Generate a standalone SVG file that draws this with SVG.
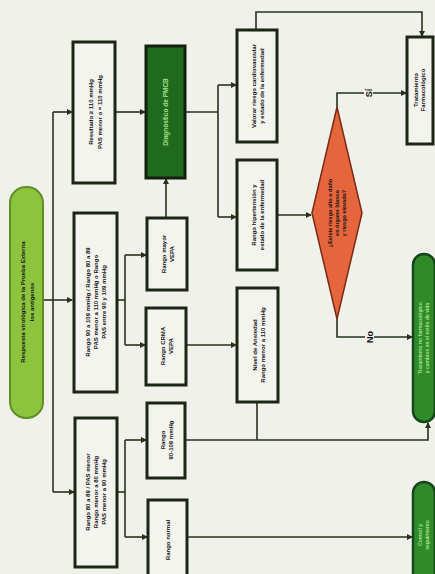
<svg xmlns="http://www.w3.org/2000/svg" width="435" height="574" viewBox="0 0 435 574">
<defs>
<marker id="ah" markerWidth="6" markerHeight="6" refX="5" refY="3" orient="auto" markerUnits="userSpaceOnUse">
<path d="M0,0 L6,3 L0,6 Z" fill="#26331c"/>
</marker>
<style>
.bg{fill:#f1f1ec}
.box{fill:#f4f4ef;stroke:#1c2614;stroke-width:3}
.dk{fill:#1f6a1c;stroke:#10200c;stroke-width:3}
.pill{fill:#8cc43e;stroke:#5f8f24;stroke-width:2}
.gp{fill:#2f8a2a;stroke:#17451a;stroke-width:2.5}
.dia{fill:#e5663c;stroke:#7a2a14;stroke-width:1.5}
.ln{fill:none;stroke:#26331c;stroke-width:1.6}
.t{font-family:"Liberation Sans",Arial,sans-serif;font-size:6px;font-weight:bold;fill:#121212;text-anchor:middle}
.tl{font-family:"Liberation Sans",Arial,sans-serif;font-size:6px;font-weight:bold;fill:#a8e08c;text-anchor:middle}
.lab{font-family:"Liberation Sans",Arial,sans-serif;font-size:9px;font-weight:bold;fill:#111;text-anchor:middle}
</style>
</defs>
<rect class="bg" x="0" y="0" width="435" height="574"/>

<g id="connectors">
<path class="ln" d="M43,300 H72" marker-end="url(#ah)"/>
<path class="ln" d="M53,112 V492"/>
<path class="ln" d="M53,112 H72" marker-end="url(#ah)"/>
<path class="ln" d="M53,492 H74" marker-end="url(#ah)"/>
<path class="ln" d="M115,112 H145" marker-end="url(#ah)"/>
<path class="ln" d="M185,112 H218"/>
<path class="ln" d="M218,85 V217"/>
<path class="ln" d="M218,85 H236" marker-end="url(#ah)"/>
<path class="ln" d="M218,217 H236" marker-end="url(#ah)"/>
<path class="ln" d="M166,218 V179" marker-end="url(#ah)"/>
<path class="ln" d="M117,300 H125"/>
<path class="ln" d="M125,255 V345"/>
<path class="ln" d="M125,255 H146" marker-end="url(#ah)"/>
<path class="ln" d="M125,345 H145" marker-end="url(#ah)"/>
<path class="ln" d="M186,345 H236" marker-end="url(#ah)"/>
<path class="ln" d="M117,492 H125"/>
<path class="ln" d="M125,440 V537"/>
<path class="ln" d="M125,440 H146" marker-end="url(#ah)"/>
<path class="ln" d="M125,537 H147" marker-end="url(#ah)"/>
<path class="ln" d="M185,440 H428 V423" marker-end="url(#ah)"/>
<path class="ln" d="M257,402 V440"/>
<path class="ln" d="M187,537 H412" marker-end="url(#ah)"/>
<path class="ln" d="M256,30 V12 H422 V36" marker-end="url(#ah)"/>
<path class="ln" d="M277,215 H311" marker-end="url(#ah)"/>
<path class="ln" d="M337,107 V93 H406" marker-end="url(#ah)"/>
<path class="ln" d="M337,319 V337 H412" marker-end="url(#ah)"/>
<rect x="364" y="86" width="9" height="14" fill="#f1f1ec"/>
<text class="lab" transform="translate(371.5,93) rotate(-90)">Sí</text>
<rect x="365" y="329" width="9" height="16" fill="#f1f1ec"/>
<text class="lab" transform="translate(372.5,337) rotate(-90)">No</text>
</g>

<g id="n-inicio">
<rect class="pill" x="10" y="187" width="33" height="231" rx="16"/>
<text class="t" transform="translate(26.5,302) rotate(-90)" fill="#1a2a0a"><tspan x="0" dy="-2">Respuesta virológica de la Prueba Externa</tspan><tspan x="0" dy="9">los antígenos</tspan></text>
</g>

<g id="n-a">
<rect class="box" x="73" y="42" width="42" height="141"/>
<text class="t" transform="translate(94,112) rotate(-90)"><tspan x="0" dy="-1">Resultado ≥ 110 mmHg</tspan><tspan x="0" dy="9">PAS menor o = 110 mmHg</tspan></text>
</g>

<g id="n-b">
<rect class="box" x="74" y="213" width="43" height="179"/>
<text class="t" transform="translate(95.5,302) rotate(-90)"><tspan x="0" dy="-6">Rango 90 a 109 mmHg / Rango 80 a 89</tspan><tspan x="0" dy="8">PAS menor a 110 mmHg o Rango</tspan><tspan x="0" dy="8">PAS entre 90 y 109 mmHg</tspan></text>
</g>

<g id="n-k">
<rect class="box" x="75" y="418" width="42" height="149"/>
<text class="t" transform="translate(96,492) rotate(-90)"><tspan x="0" dy="-6">Rango 80 a 89 / PAS menor</tspan><tspan x="0" dy="8">Rango menor a 80 mmHg</tspan><tspan x="0" dy="8">PAS menor a 90 mmHg</tspan></text>
</g>

<g id="n-diag">
<rect class="dk" x="146" y="46" width="39" height="132"/>
<text class="tl" transform="translate(165.5,112) rotate(-90)" style="font-size:6.5px"><tspan x="0" dy="2">Diagnóstico de PMCB</tspan></text>
</g>

<g id="n-c">
<rect class="box" x="147" y="218" width="40" height="72"/>
<text class="t" transform="translate(167,254) rotate(-90)"><tspan x="0" dy="-1">Rango mayor</tspan><tspan x="0" dy="8">VEPA</tspan></text>
</g>

<g id="n-c2">
<rect class="box" x="146" y="308" width="40" height="77"/>
<text class="t" transform="translate(166,346) rotate(-90)"><tspan x="0" dy="-1">Rango CRMA</tspan><tspan x="0" dy="8">VEPA</tspan></text>
</g>

<g id="n-l">
<rect class="box" x="147" y="403" width="38" height="75"/>
<text class="t" transform="translate(166,440) rotate(-90)"><tspan x="0" dy="-1">Rango</tspan><tspan x="0" dy="8">90-109 mmHg</tspan></text>
</g>

<g id="n-m">
<rect class="box" x="148" y="500" width="39" height="90"/>
<text class="t" transform="translate(167.5,540) rotate(-90)"><tspan x="0" dy="2">Rango normal</tspan></text>
</g>

<g id="n-d">
<rect class="box" x="237" y="30" width="40" height="112"/>
<text class="t" transform="translate(257,86) rotate(-90)"><tspan x="0" dy="-1">Valorar riesgo cardiovascular</tspan><tspan x="0" dy="8">y estado de la enfermedad</tspan></text>
</g>

<g id="n-e">
<rect class="box" x="237" y="160" width="40" height="110"/>
<text class="t" transform="translate(257,215) rotate(-90)"><tspan x="0" dy="-1">Rango hipertensión y</tspan><tspan x="0" dy="8">estado de la enfermedad</tspan></text>
</g>

<g id="n-i">
<rect class="box" x="237" y="288" width="41" height="114"/>
<text class="t" transform="translate(257.5,345) rotate(-90)"><tspan x="0" dy="-1">Nivel de Ansiedad</tspan><tspan x="0" dy="8">Rango menor a 110 mmHg</tspan></text>
</g>

<g id="n-rombo">
<polygon class="dia" points="337,107 362,213 337,319 312,213"/>
<text class="t" transform="translate(337,213) rotate(-90)" style="font-size:5.5px"><tspan x="0" dy="-5">¿Existe riesgo alto o daño</tspan><tspan x="0" dy="7">en órgano blanco</tspan><tspan x="0" dy="7">y riesgo elevado?</tspan></text>
</g>

<g id="n-f">
<rect class="box" x="407" y="37" width="26" height="107"/>
<text class="t" transform="translate(420,90) rotate(-90)"><tspan x="0" dy="-2">Tratamiento</tspan><tspan x="0" dy="7">Farmacológico</tspan></text>
</g>

<g id="n-h">
<rect class="gp" x="413" y="254" width="22" height="168" rx="11"/>
<text class="tl" transform="translate(424,338) rotate(-90)" style="font-size:5px"><tspan x="0" dy="-2">Tratamiento no farmacológico</tspan><tspan x="0" dy="7">y cambios en el estilo de vida</tspan></text>
</g>

<g id="n-j">
<rect class="gp" x="413" y="482" width="22" height="110" rx="11"/>
<text class="tl" transform="translate(424,535) rotate(-90)" style="font-size:5px"><tspan x="0" dy="-2">Control y</tspan><tspan x="0" dy="7">seguimiento</tspan></text>
</g>
</svg>
